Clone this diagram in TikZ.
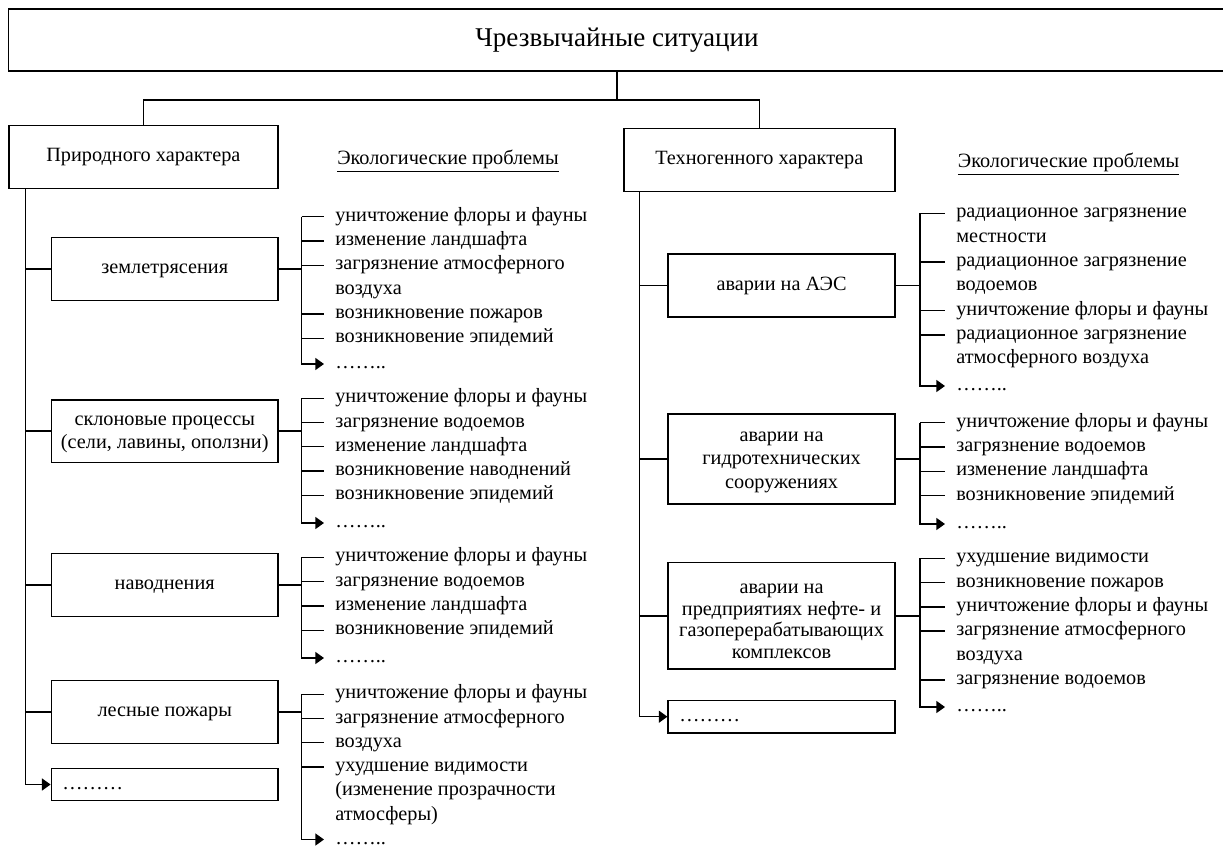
\documentclass[tikz,border=0pt]{standalone}
\usepackage{fontspec}
\setmainfont{Liberation Serif}
\usetikzlibrary{arrows.meta,calc}
\newcommand\myfs{\fontsize{15.2pt}{17.5pt}\selectfont}
\newcommand\myfsT{\fontsize{20.3pt}{24pt}\selectfont}
\newcommand\boxlines[2]{\parbox[b]{170pt}{\centering\fontsize{15.2pt}{#1}\selectfont #2}}
\begin{document}
\begin{tikzpicture}[x=0.75pt,y=-0.75pt,
  every node/.style={font=\myfs},
  box/.style={draw,line width=1.15pt,inner sep=0pt,align=center,minimum width=170pt,minimum height=47.25pt},
  one/.style={text height=6.8pt,text depth=0pt},
  multi/.style={draw,line width=1.15pt,inner sep=0pt,minimum width=170pt,text depth=0pt,text height=#1},
  dotbox/.style={box,minimum height=24.3pt,text width=153.45pt,inner xsep=8.25pt,align=left,text height=6.8pt,text depth=0pt},
  item/.style={anchor=west,inner xsep=8.25pt,inner ysep=0pt,text height=6.8pt,text depth=0pt},
  hdr/.style={anchor=base west,inner sep=0pt},
  ln/.style={line width=1.15pt},
  arr/.style={line width=1.15pt,-{Triangle[length=6.5pt,width=9pt]}},
]
\useasboundingbox (0,0) rectangle (1223,848);
\coordinate (bar) at (0,100);
\coordinate (sL) at (25.5,0);
\coordinate (sR) at (639.7,0);
\coordinate (bL) at (301.7,0);
\coordinate (bR) at (919.8,0);

% title and top level
\node[box,minimum width=912.45pt,minimum height=46.5pt,font=\myfsT,text height=9.1pt,text depth=0pt] (title) at (617,40) {Чрезвычайные ситуации};
\node[box,one,minimum width=202pt] (nat) at (143.4,157.2) {Природного характера};
\node[box,one,minimum width=203.25pt,minimum height=47.5pt] (tech) at (759.3,160) {Техногенного характера};
\node[hdr] (ecoL) at (337,165) {\underline{Экологические проблемы}};
\node[hdr] (ecoR) at (957.6,168) {\underline{Экологические проблемы}};

\draw[ln] (title.south) -- (title.south |- bar);
\draw[ln] (nat.north) |- (tech.north |- bar) -- (tech.north);

% left boxes
\node[box,one] (quake) at (164.7,269.2) {землетрясения};
\node[multi=26pt,minimum height=46.7pt] (slope) at (164.7,431.2) {\boxlines{17.5pt}{склоновые процессы\\(сели, лавины, оползни)}};
\node[box,one] (flood) at (164.7,584.9) {наводнения};
\node[box,one] (fire) at (164.7,712) {лесные пожары};
\node[dotbox] (dotsL) at (164.7,784.5) {………};

\draw[arr] (nat.south -| sL) |- (dotsL.west);
\foreach \b in {quake,slope,flood,fire} \draw[ln] (sL |- \b.west) -- (\b.west);

% right boxes
\node[box,one] (npp) at (781.55,285.5) {аварии на АЭС};
\node[multi=44.25pt,minimum height=67.5pt] (hydro) at (781.55,459) {\boxlines{17.8pt}{аварии на\\гидротехнических\\сооружениях}};
\node[multi=64pt,minimum height=79.7pt] (oil) at (781.55,615.85) {\boxlines{16.3pt}{аварии на\\предприятиях нефте- и\\газоперерабатывающих\\комплексов}};
\node[dotbox] (dotsR) at (781.55,716.7) {………};

\draw[arr] (tech.south -| sR) |- (dotsR.west);
\foreach \b in {npp,hydro,oil} \draw[ln] (sR |- \b.west) -- (\b.west);

% list 1: earthquakes
\node[item] (a1) at (324,216.7) {уничтожение флоры и фауны};
\node[item] (a2) at (324,241) {изменение ландшафта};
\node[item] (a3) at (324,265.3) {загрязнение атмосферного};
\node[item] (a4) at (324,289.6) {воздуха};
\node[item] (a5) at (324,314) {возникновение пожаров};
\node[item] (a6) at (324,338.3) {возникновение эпидемий};
\node[item] (ad) at (324,364) {……..};
\draw[ln] (quake.east) -- (quake.east -| bL);
\draw[arr] (bL |- a1.west) |- (ad.west);
\foreach \n in {a1,a2,a3,a5,a6} \draw[ln] (bL |- \n.west) -- (\n.west);

% list 2: slopes
\node[item] (c1) at (324,398.3) {уничтожение флоры и фауны};
\node[item] (c2) at (324,422.5) {загрязнение водоемов};
\node[item] (c3) at (324,446.7) {изменение ландшафта};
\node[item] (c4) at (324,471) {возникновение наводнений};
\node[item] (c5) at (324,495.3) {возникновение эпидемий};
\node[item] (cd) at (324,523) {……..};
\draw[ln] (slope.east) -- (slope.east -| bL);
\draw[arr] (bL |- c1.west) |- (cd.west);
\foreach \n in {c1,c2,c3,c4,c5} \draw[ln] (bL |- \n.west) -- (\n.west);

% list 3: floods
\node[item] (f1) at (324,557.3) {уничтожение флоры и фауны};
\node[item] (f2) at (324,581.7) {загрязнение водоемов};
\node[item] (f3) at (324,606) {изменение ландшафта};
\node[item] (f4) at (324,630.3) {возникновение эпидемий};
\node[item] (fd) at (324,658) {……..};
\draw[ln] (flood.east) -- (flood.east -| bL);
\draw[arr] (bL |- f1.west) |- (fd.west);
\foreach \n in {f1,f2,f3,f4} \draw[ln] (bL |- \n.west) -- (\n.west);

% list 4: forest fires
\node[item] (g1) at (324,694.3) {уничтожение флоры и фауны};
\node[item] (g2) at (324,718.5) {загрязнение атмосферного};
\node[item] (g3) at (324,742.7) {воздуха};
\node[item] (g4) at (324,767) {ухудшение видимости};
\node[item] (g5) at (324,791.3) {(изменение прозрачности};
\node[item] (g6) at (324,815.6) {атмосферы)};
\node[item] (gd) at (324,839.5) {……..};
\draw[ln] (fire.east) -- (fire.east -| bL);
\draw[arr] (bL |- g1.west) |- (gd.west);
\foreach \n in {g1,g2,g3,g4} \draw[ln] (bL |- \n.west) -- (\n.west);

% list 5: NPP
\node[item] (n1) at (945,213.3) {радиационное загрязнение};
\node[item] (n2) at (945,237.6) {местности};
\node[item] (n3) at (945,261.9) {радиационное загрязнение};
\node[item] (n4) at (945,286.2) {водоемов};
\node[item] (n5) at (945,310.5) {уничтожение флоры и фауны};
\node[item] (n6) at (945,334.8) {радиационное загрязнение};
\node[item] (n7) at (945,359.1) {атмосферного воздуха};
\node[item] (nd) at (945,386) {……..};
\draw[ln] (npp.east) -- (npp.east -| bR);
\draw[arr] (bR |- n1.west) |- (nd.west);
\foreach \n in {n1,n3,n5,n6} \draw[ln] (bR |- \n.west) -- (\n.west);

% list 6: hydro
\node[item] (h1) at (945,422.7) {уничтожение флоры и фауны};
\node[item] (h2) at (945,447) {загрязнение водоемов};
\node[item] (h3) at (945,471.3) {изменение ландшафта};
\node[item] (h4) at (945,495.6) {возникновение эпидемий};
\node[item] (hd) at (945,524) {……..};
\draw[ln] (hydro.east) -- (hydro.east -| bR);
\draw[arr] (bR |- h1.west) |- (hd.west);
\foreach \n in {h1,h2,h3,h4} \draw[ln] (bR |- \n.west) -- (\n.west);

% list 7: oil
\node[item] (o1) at (945,558.3) {ухудшение видимости};
\node[item] (o2) at (945,582.6) {возникновение пожаров};
\node[item] (o3) at (945,606.9) {уничтожение флоры и фауны};
\node[item] (o4) at (945,631.2) {загрязнение атмосферного};
\node[item] (o5) at (945,655.5) {воздуха};
\node[item] (o6) at (945,679.8) {загрязнение водоемов};
\node[item] (od) at (945,707) {……..};
\draw[ln] (oil.east) -- (oil.east -| bR);
\draw[arr] (bR |- o1.west) |- (od.west);
\foreach \n in {o1,o2,o3,o4,o6} \draw[ln] (bR |- \n.west) -- (\n.west);
\end{tikzpicture}
\end{document}
